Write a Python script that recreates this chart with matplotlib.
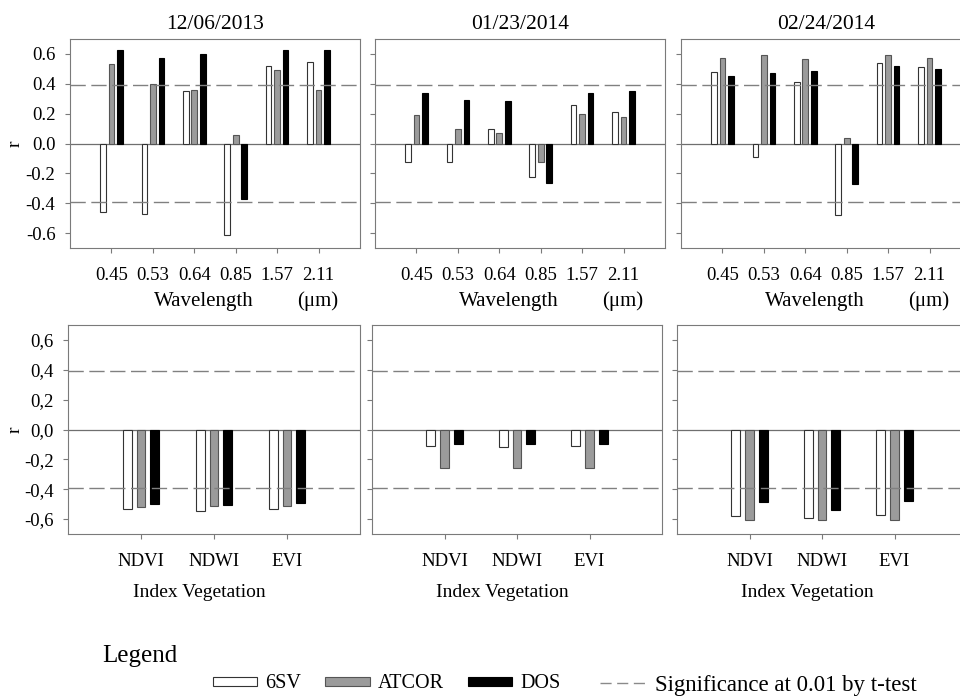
import numpy as np
import matplotlib.pyplot as plt
from matplotlib.patches import Patch
from matplotlib.lines import Line2D

plt.rcParams['font.family'] = ['Liberation Serif', 'DejaVu Serif']

# data
dates = ['12/06/2013', '01/23/2014', '02/24/2014']
wavelengths = ['0.45', '0.53', '0.64', '0.85', '1.57', '2.11']
indices = ['NDVI', 'NDWI', 'EVI']
methods = ['6SV', 'ATCOR', 'DOS']
sig_label = 'Significance at 0.01 by t-test'
sig_level = 0.39

# r per band, one list per date, order 0.45 .. 2.11
band_6sv = [
    [-0.46, -0.47, 0.35, -0.615, 0.52, 0.545],
    [-0.125, -0.125, 0.10, -0.225, 0.26, 0.21],
    [0.48, -0.09, 0.415, -0.48, 0.54, 0.515],
]
band_atcor = [
    [0.53, 0.40, 0.36, 0.06, 0.495, 0.36],
    [0.19, 0.10, 0.07, -0.125, 0.20, 0.18],
    [0.575, 0.595, 0.565, 0.035, 0.59, 0.575],
]
band_dos = [
    [0.625, 0.57, 0.60, -0.375, 0.625, 0.625],
    [0.34, 0.29, 0.285, -0.265, 0.34, 0.35],
    [0.455, 0.47, 0.485, -0.27, 0.52, 0.50],
]

# r per vegetation index, order NDVI, NDWI, EVI
veg_6sv = [
    [-0.53, -0.545, -0.535],
    [-0.11, -0.12, -0.11],
    [-0.58, -0.59, -0.575],
]
veg_atcor = [
    [-0.52, -0.51, -0.51],
    [-0.255, -0.255, -0.255],
    [-0.605, -0.605, -0.605],
]
veg_dos = [
    [-0.50, -0.505, -0.495],
    [-0.10, -0.10, -0.10],
    [-0.485, -0.54, -0.48],
]

yticks = [-0.6, -0.4, -0.2, 0.0, 0.2, 0.4, 0.6]
ytl_top = ['-0.6', '-0.4', '-0.2', '0.0', '0.2', '0.4', '0.6']
ytl_bot = ['-0,6', '-0,4', '-0,2', '0,0', '0,2', '0,4', '0,6']

fills = ['white', '#9b9b9b', 'black']
edges = ['#333333', '#555555', 'black']
spine_c = '#7a7a7a'
W, H = 960, 697

fig = plt.figure(figsize=(9.6, 6.97), dpi=100)


def style(ax, ticklabels):
    for s in ax.spines.values():
        s.set_color(spine_c)
        s.set_linewidth(0.8)
    ax.tick_params(direction='out', length=3.5, width=0.8, color=spine_c)
    ax.set_ylim(-0.7, 0.7)
    ax.set_yticks(yticks)
    if ticklabels is not None:
        ax.set_yticklabels(ticklabels, fontsize=13.5)
        ax.tick_params(axis='y', pad=7)
    else:
        ax.set_yticklabels([])
    ax.axhline(0, color='#6f6f6f', lw=0.9, zorder=1)
    for v in (sig_level, -sig_level):
        ax.axhline(v, color='#808080', lw=1.0, dashes=(11, 4), zorder=3)


top_lefts = [70, 375, 681]
bot_lefts = [68, 372, 677]
bot_widths = [292, 290, 290]
off = 0.205
bw = 0.135

for i in range(3):
    # top row: bands
    ax = fig.add_axes([top_lefts[i] / W, 1 - 248 / H, 290 / W, 209 / H])
    x = np.arange(len(wavelengths))
    for k, vals in enumerate([band_6sv[i], band_atcor[i], band_dos[i]]):
        ax.bar(x + (k - 1) * off, vals, bw, color=fills[k], edgecolor=edges[k],
               linewidth=0.8, zorder=2)
    ax.set_xlim(-1, 6)
    ax.set_xticks(x)
    ax.set_xticklabels(wavelengths, fontsize=13.5)
    ax.tick_params(axis='x', pad=10)
    style(ax, ytl_top if i == 0 else None)
    ax.set_title(dates[i], fontsize=15.5, pad=7)
    ax.text(0.462, -0.2775, 'Wavelength', transform=ax.transAxes, ha='center',
            va='baseline', fontsize=15)
    ax.text(0.855, -0.2775, '(\u03bcm)', transform=ax.transAxes, ha='center',
            va='baseline', fontsize=15)

    # bottom row: vegetation indices
    ax = fig.add_axes([bot_lefts[i] / W, 1 - 534 / H, bot_widths[i] / W, 209 / H])
    x = np.arange(len(indices))
    for k, vals in enumerate([veg_6sv[i], veg_atcor[i], veg_dos[i]]):
        ax.bar(x + (k - 1) * 0.19, vals, 0.12, color=fills[k], edgecolor=edges[k],
               linewidth=0.8, zorder=2)
    ax.set_xlim(-1, 3)
    ax.set_xticks(x)
    ax.set_xticklabels(indices, fontsize=13.5)
    ax.tick_params(axis='x', pad=10)
    style(ax, ytl_bot if i == 0 else None)
    ax.text(0.45, -0.301, 'Index Vegetation', transform=ax.transAxes, ha='center',
            va='baseline', fontsize=14)

fig.text(15.5 / W, 1 - 143.5 / H, 'r', rotation=90, ha='center', va='center', fontsize=14)
fig.text(15.5 / W, 1 - 430 / H, 'r', rotation=90, ha='center', va='center', fontsize=14)

# legend
fig.text(102 / W, 1 - 662 / H, 'Legend', fontsize=18, va='baseline')
handles = [Patch(facecolor=fills[k], edgecolor=edges[k], linewidth=0.8) for k in range(3)]
fig.legend(handles, methods, ncol=3,
           loc='center left', bbox_to_anchor=(213 / W, 1 - 684 / H),
           frameon=False, fontsize=14.5, handlelength=2.2, handleheight=0.3,
           handletextpad=0.4, columnspacing=1.2, borderpad=0, borderaxespad=0)
sig_handle = Line2D([], [], color='#8a8a8a', lw=1.0, dashes=(8, 4))
fig.legend([sig_handle], [sig_label],
           loc='center left', bbox_to_anchor=(600 / W, 1 - 685 / H),
           frameon=False, fontsize=16.5, handlelength=1.95,
           handletextpad=0.45, borderpad=0, borderaxespad=0)

fig.savefig('out.png', dpi=100)
